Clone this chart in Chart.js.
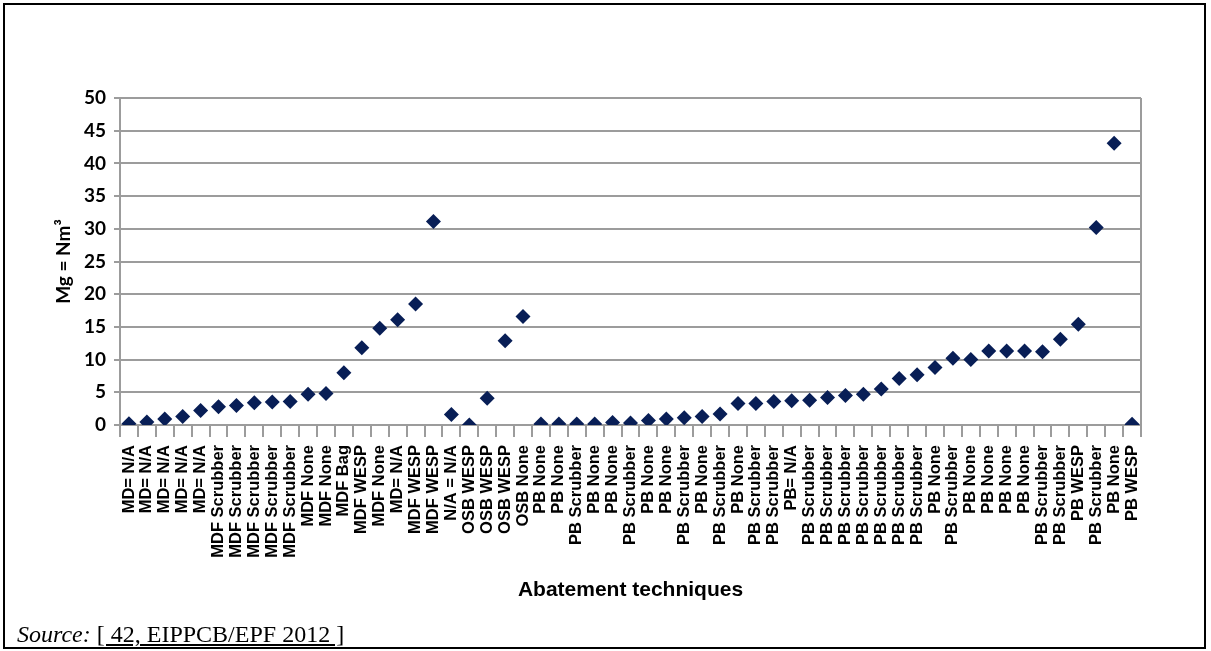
<!DOCTYPE html>
<html lang="en">
<head>
    <meta charset="UTF-8">
    <title>Abatement techniques</title>
    <script src="https://cdn.jsdelivr.net/npm/chart.js"></script>
    <style>
        body {
            margin: 0;
            background: #ffffff;
        }
        .frame {
            position: absolute;
            left: 3px;
            top: 3px;
            width: 1203px;
            height: 646px;
            box-sizing: border-box;
            border: 2px solid #000000;
        }
        .chart-box {
            position: absolute;
            left: 0;
            top: 0;
            width: 1211px;
            height: 651px;
        }
        .source {
            position: absolute;
            left: 17px;
            top: 622px;
            font-family: "Liberation Serif", "Times New Roman", serif;
            font-size: 24px;
            line-height: 24px;
            color: #000000;
            white-space: nowrap;
        }
        .source span {
            text-decoration: underline;
        }
    </style>
</head>
<body>
    <div class="frame"></div>
    <div class="chart-box">
        <canvas id="chart"></canvas>
    </div>
    <div class="source"><i>Source:</i> <span>[ 42, EIPPCB/EPF 2012 ]</span></div>

    <script>
        // Category labels, left to right
        const techniques = [
            'MD= N/A', 'MD= N/A', 'MD= N/A', 'MD= N/A', 'MD= N/A',
            'MDF Scrubber', 'MDF Scrubber', 'MDF Scrubber', 'MDF Scrubber', 'MDF Scrubber',
            'MDF None', 'MDF None', 'MDF Bag', 'MDF WESP', 'MDF None',
            'MD= N/A', 'MDF WESP', 'MDF WESP', 'N/A = N/A',
            'OSB WESP', 'OSB WESP', 'OSB WESP', 'OSB None',
            'PB None', 'PB None', 'PB Scrubber', 'PB None', 'PB None',
            'PB Scrubber', 'PB None', 'PB None', 'PB Scrubber', 'PB None',
            'PB Scrubber', 'PB None', 'PB Scrubber', 'PB Scrubber', 'PB= N/A',
            'PB Scrubber', 'PB Scrubber', 'PB Scrubber', 'PB Scrubber', 'PB Scrubber',
            'PB Scrubber', 'PB Scrubber', 'PB None', 'PB Scrubber',
            'PB None', 'PB None', 'PB None', 'PB None',
            'PB Scrubber', 'PB Scrubber', 'PB WESP', 'PB Scrubber', 'PB None', 'PB WESP'
        ];

        // Emission values (mg/Nm3)
        const emissions = [
            0.2, 0.45, 0.9, 1.3, 2.2,
            2.8, 3.0, 3.4, 3.5, 3.6,
            4.7, 4.8, 8.0, 11.8, 14.8,
            16.1, 18.5, 31.1, 1.6,
            0.0, 4.1, 12.9, 16.6,
            0.15, 0.15, 0.15, 0.15, 0.4,
            0.3, 0.7, 0.9, 1.1, 1.3,
            1.7, 3.3, 3.3, 3.6, 3.7,
            3.8, 4.2, 4.5, 4.7, 5.5,
            7.1, 7.7, 8.8, 10.2,
            10.0, 11.3, 11.3, 11.3,
            11.2, 13.1, 15.4, 30.2, 43.1, 0.1
        ];

        // Y axis ticks
        const yMin = 0;
        const yMax = 50;
        const yStep = 5;

        const gridColor = '#9c9c9c';

        // Right edge line of the plot area
        const plotBorder = {
            id: 'plotBorder',
            afterDraw(chart) {
                const { ctx, chartArea } = chart;
                ctx.save();
                ctx.strokeStyle = gridColor;
                ctx.lineWidth = 2;
                ctx.beginPath();
                ctx.moveTo(chartArea.right, chartArea.top);
                ctx.lineTo(chartArea.right, chartArea.bottom);
                ctx.stroke();
                ctx.restore();
            }
        };

        const ctx = document.getElementById('chart').getContext('2d');
        const chart = new Chart(ctx, {
            type: 'line',
            data: {
                labels: techniques,
                datasets: [
                    {
                        label: 'Mg = Nm³',
                        data: emissions,
                        showLine: false,
                        pointStyle: 'rectRot',
                        pointRadius: 7.5,
                        pointHoverRadius: 7.5,
                        pointBackgroundColor: '#081e56',
                        pointBorderColor: '#081e56',
                        pointBorderWidth: 0
                    }
                ]
            },
            plugins: [plotBorder],
            options: {
                responsive: true,
                maintainAspectRatio: false,
                animation: false,
                layout: {
                    padding: { left: 48, top: 98, right: 70, bottom: 44 }
                },
                plugins: {
                    legend: { display: false },
                    tooltip: { enabled: false }
                },
                scales: {
                    x: {
                        type: 'category',
                        offset: true,
                        afterFit: (scale) => { scale.height = 182; },
                        grid: {
                            offset: true,
                            drawOnChartArea: false,
                            drawTicks: true,
                            tickLength: 12,
                            color: gridColor,
                            lineWidth: 2
                        },
                        border: { display: true, color: gridColor, width: 2 },
                        ticks: {
                            autoSkip: false,
                            minRotation: 90,
                            maxRotation: 90,
                            padding: 8,
                            color: '#000000',
                            font: { family: '"Liberation Sans", Arial, sans-serif', size: 16.5, weight: 'bold' }
                        },
                        title: {
                            display: true,
                            text: 'Abatement techniques',
                            color: '#000000',
                            font: { family: '"Liberation Sans", Arial, sans-serif', size: 21, weight: 'bold' }
                        }
                    },
                    y: {
                        min: yMin,
                        max: yMax,
                        afterFit: (scale) => { scale.width = 72; },
                        grid: {
                            color: gridColor,
                            lineWidth: 2,
                            tickLength: 6
                        },
                        border: { display: true, color: gridColor, width: 2 },
                        ticks: {
                            stepSize: yStep,
                            padding: 8,
                            color: '#000000',
                            font: { family: 'Lato, sans-serif', size: 19, weight: 'bold' }
                        },
                        title: {
                            display: true,
                            text: 'Mg = Nm³',
                            color: '#000000',
                            font: { family: 'Lato, sans-serif', size: 19, weight: 'bold' }
                        }
                    }
                }
            }
        });
    </script>
</body>
</html>
